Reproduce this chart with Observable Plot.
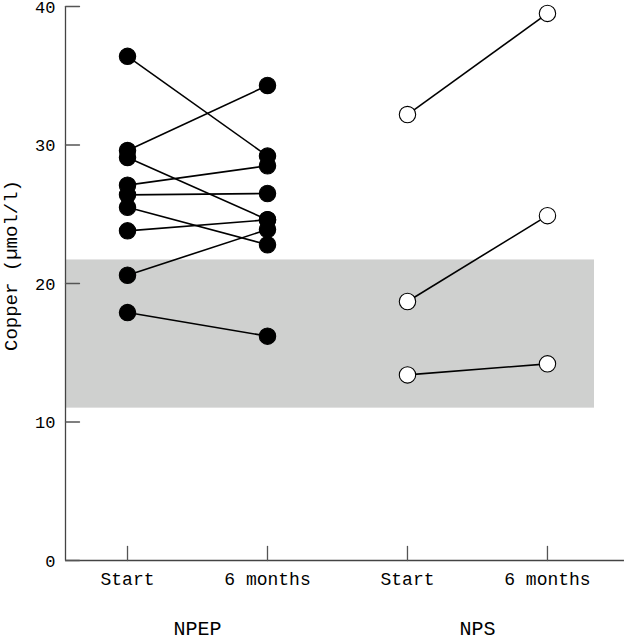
<!DOCTYPE html>
<html>
<head>
<meta charset="utf-8">
<script src="https://cdn.jsdelivr.net/npm/d3@7"></script>
<script src="https://cdn.jsdelivr.net/npm/@observablehq/plot@0.6"></script>
<style>
  html, body { margin: 0; padding: 0; background: #fff; }
  svg { display: block; }
</style>
</head>
<body>
<div id="chart"></div>
<script>
// ---- data ----
const groups = ["NPEP", "NPS"];
const timeLabels = ["Start", "6 months", "Start", "6 months"];
const npepStart = [36.4, 29.6, 29.1, 27.1, 26.4, 25.5, 23.8, 20.6, 17.9];
const npep6m    = [29.2, 34.3, 24.6, 28.5, 26.5, 22.8, 24.6, 23.9, 16.2];
const npsStart  = [32.2, 18.7, 13.4];
const nps6m     = [39.5, 24.9, 14.2];
const normalRange = [11, 21.7];
const yTicks = [0, 10, 20, 30, 40];
const yLabel = "Copper (\u00b5mol/l)";

// ---- build tables ----
const xPos = [1, 2, 3, 4];
const pairs = [
  ...npepStart.map((v, i) => ({group: "NPEP", x1: xPos[0], x2: xPos[1], y1: v, y2: npep6m[i]})),
  ...npsStart.map((v, i) => ({group: "NPS", x1: xPos[2], x2: xPos[3], y1: v, y2: nps6m[i]}))
];
const points = pairs.flatMap(p => [
  {group: p.group, x: p.x1, y: p.y1},
  {group: p.group, x: p.x2, y: p.y2}
]);
const groupLabels = groups.map((g, i) => ({label: g, x: (xPos[2 * i] + xPos[2 * i + 1]) / 2}));

const tickShape = {draw(ctx, l) { ctx.moveTo(0, 0); ctx.lineTo(0, -l); }};
const font = "'Liberation Mono', 'Courier New', monospace";
const xDomain = [0.557, 4.336];
const xAxisEnd = 4.55;

const chart = Plot.plot({
  width: 624,
  height: 639,
  marginLeft: 65,
  marginRight: 30,
  marginTop: 6,
  marginBottom: 79,
  style: {fontFamily: font, background: "#fff", color: "#000"},
  x: {domain: xDomain, axis: null},
  y: {domain: [0, 40], axis: null},
  marks: [
    Plot.rect([normalRange], {y1: d => d[0], y2: d => d[1], fill: "#cfd0cf"}),
    Plot.ruleX([xDomain[0]], {y1: 0, y2: 40, stroke: "#444", strokeWidth: 1.3}),
    Plot.ruleY([0], {x1: xDomain[0], x2: xAxisEnd, stroke: "#444", strokeWidth: 1.3}),
    Plot.vector(yTicks, {y: d => d, frameAnchor: "left", rotate: 90, length: 14, anchor: "start", shape: tickShape, stroke: "#555", strokeWidth: 1.3}),
    Plot.vector(xPos, {x: d => d, frameAnchor: "bottom", rotate: 0, length: 14, anchor: "start", shape: tickShape, stroke: "#555", strokeWidth: 1.3}),
    Plot.text(yTicks, {y: d => d, text: d => String(d), frameAnchor: "left", textAnchor: "end", dx: -10, dy: 1, fontSize: 17, fill: "#000"}),
    Plot.text(xPos, {x: d => d, text: (d, i) => timeLabels[i], frameAnchor: "bottom", textAnchor: "middle", dy: 24, fontSize: 18, fill: "#000"}),
    Plot.text(groupLabels, {x: "x", text: "label", frameAnchor: "bottom", textAnchor: "middle", dy: 74, fontSize: 20, fill: "#000"}),
    Plot.text([yLabel], {frameAnchor: "left", textAnchor: "middle", rotate: -90, dx: -55, dy: -18, fontSize: 19, fill: "#000"}),
    Plot.link(pairs, {x1: "x1", x2: "x2", y1: "y1", y2: "y2", stroke: "#000", strokeWidth: 1.6}),
    Plot.dot(points, {x: "x", y: "y", r: 8.2, fill: d => d.group === "NPEP" ? "#000" : "#fff", stroke: "#000", strokeWidth: 1.1})
  ]
});
document.getElementById("chart").append(chart);
</script>
</body>
</html>
